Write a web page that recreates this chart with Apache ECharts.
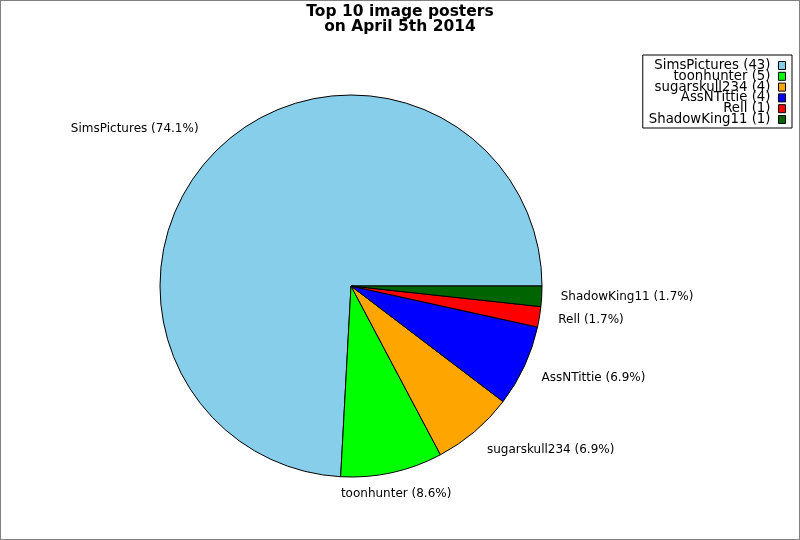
<!DOCTYPE html>
<html>
<head>
<meta charset="utf-8">
<script src="https://cdn.jsdelivr.net/npm/echarts@6/dist/echarts.min.js"></script>
<style>
  html, body { margin: 0; padding: 0; background: #fff; }
  #chart { width: 800px; height: 540px; box-sizing: border-box; border: 1px solid #808080; }
</style>
</head>
<body>
<div id="chart"></div>
<script>
const titleLines = ['Top 10 image posters', 'on April 5th 2014'];
const posters = ['SimsPictures', 'toonhunter', 'sugarskull234', 'AssNTittie', 'Rell', 'ShadowKing11'];
const imageCounts = [43, 5, 4, 4, 1, 1];
const sliceColors = ['#87CEEB', '#00FF00', '#FFA500', '#0000FF', '#FF0000', '#006400'];

const total = imageCounts.reduce((a, b) => a + b, 0);
const FONT = 'DejaVu Sans';

const chart = echarts.init(document.getElementById('chart'), null, { renderer: 'canvas' });
chart.setOption({
  animation: false,
  backgroundColor: '#fff',
  title: {
    text: titleLines.join('\n'),
    left: 'center',
    top: 0,
    padding: [4, 0, 0, 0],
    textStyle: { fontFamily: FONT, fontWeight: 'bold', fontSize: 15.5, lineHeight: 14.5, color: '#000' }
  },
  legend: {
    orient: 'vertical',
    align: 'right',
    right: 7,
    top: 54,
    padding: [4, 6, 2, 6],
    itemGap: -2.2,
    itemWidth: 7,
    itemHeight: 8,
    icon: 'rect',
    selectedMode: false,
    borderColor: '#000',
    borderWidth: 1,
    backgroundColor: '#fff',
    itemStyle: { borderColor: '#000', borderWidth: 1 },
    textStyle: { fontFamily: FONT, fontSize: 13.3, lineHeight: 10.8, color: '#000', padding: [0, 3, 0, 0] },
    data: posters,
    formatter: function (name) {
      return name + ' (' + imageCounts[posters.indexOf(name)] + ')';
    }
  },
  series: [{
    type: 'pie',
    center: [350, 285],
    radius: 191,
    startAngle: 0,
    clockwise: false,
    avoidLabelOverlap: false,
    emphasis: { disabled: true },
    itemStyle: { borderColor: '#000', borderWidth: 1 },
    label: {
      show: true,
      position: 'outside',
      distanceToLabelLine: 0,
      fontFamily: FONT,
      fontSize: 12,
      color: '#000',
      formatter: function (p) {
        return p.name + ' (' + (p.value / total * 100).toFixed(1) + '%)';
      }
    },
    labelLine: { show: false, length: 19, length2: 0 },
    labelLayout: function (params) {
      const i = params.dataIndex;
      if (i === 0) return { dx: -8, dy: -5 };
      if (i === 1) return { align: 'center', dy: 3 };
      if (i === 2 || i === 3) return { dy: 3.5 };
      return {};
    },
    data: posters.map((n, i) => ({ name: n, value: imageCounts[i], itemStyle: { color: sliceColors[i] } }))
  }]
});
</script>
</body>
</html>
